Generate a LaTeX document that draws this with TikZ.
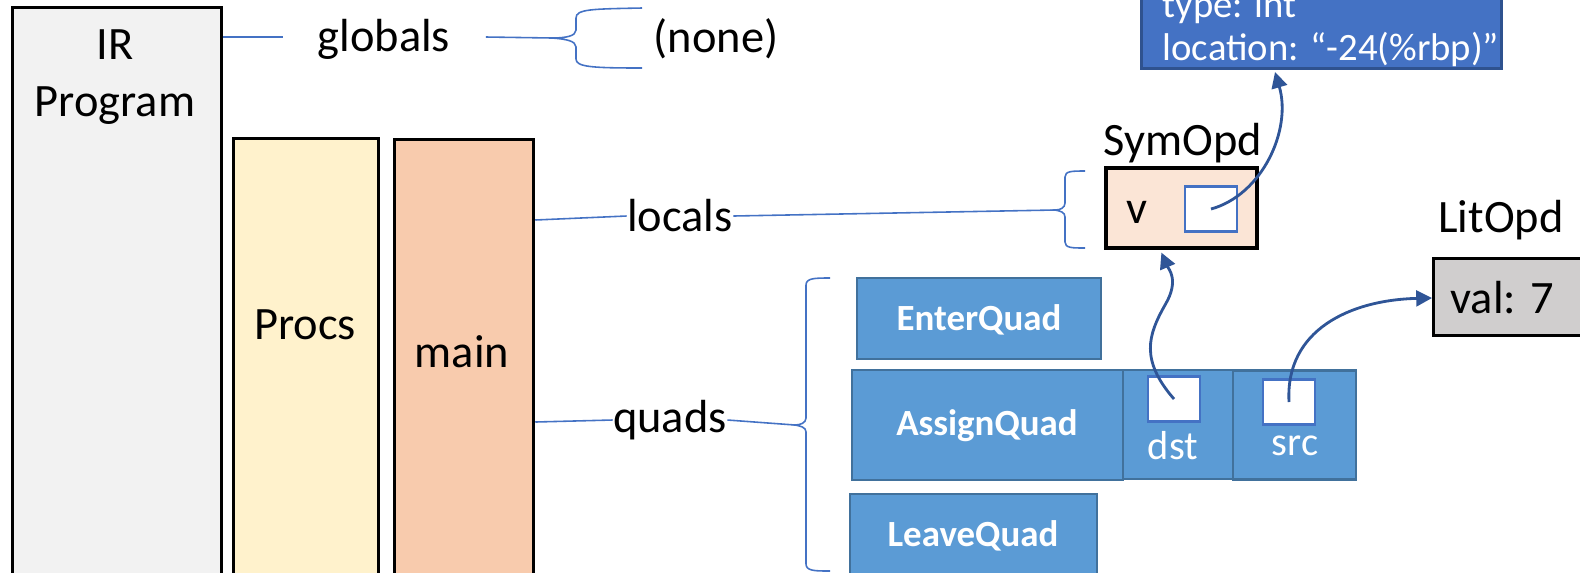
\documentclass[tikz,border=0pt]{standalone}
\usepackage{fontspec}
\setmainfont{Carlito}
\usepackage{xcolor}
\usetikzlibrary{positioning,calc,arrows.meta}

\definecolor{irgray}{HTML}{F2F2F2}
\definecolor{procyellow}{HTML}{FFF2CC}
\definecolor{mainorange}{HTML}{F8CBAD}
\definecolor{symfill}{HTML}{FBE5D6}
\definecolor{litgray}{HTML}{D0CECE}
\definecolor{quadblue}{HTML}{5B9BD5}
\definecolor{quadedge}{HTML}{41719C}
\definecolor{linkblue}{HTML}{4472C4}
\definecolor{infoedge}{HTML}{2F528F}
\definecolor{ptrblue}{HTML}{2F5597}

\tikzset{
    block/.style={draw=black, line width=0.9pt, inner sep=0pt},
    quadbox/.style={draw=quadedge, fill=quadblue, line width=0.7pt, inner sep=0pt},
    slot/.style={draw=linkblue, fill=white, line width=0.7pt, inner sep=0pt, minimum width=0.52cm, minimum height=0.45cm},
    lbl/.style={font=\fontsize{13.2}{16.4}\selectfont, inner sep=0pt},
    quadlbl/.style={text=white, font=\fontsize{10.5}{12}\selectfont\bfseries, inner sep=0pt},
    fieldlbl/.style={text=white, font=\fontsize{11.5}{13}\selectfont, inner sep=0pt},
    infolbl/.style={text=white, font=\fontsize{11}{13}\selectfont, inner sep=0pt, anchor=base west},
    link/.style={linkblue, line width=0.45pt},
    ptr/.style={ptrblue, line width=0.8pt, -{Triangle[length=4.5pt,width=4.5pt]}},
}

\begin{document}
\begin{tikzpicture}[x=0.01cm, y=-0.01cm]
    \useasboundingbox (0,0) rectangle (1580,572);
    \clip (0,0) rectangle (1580,572);

    \node[block, fill=irgray, minimum width=2.09cm, minimum height=6.1cm, anchor=north west] (ir) at (11,6) {};
    \node[block, fill=procyellow, minimum width=1.45cm, minimum height=5cm, anchor=north west] (procs) at (232,137) {};
    \node[block, fill=mainorange, minimum width=1.39cm, minimum height=5cm, anchor=north west] (mainproc) at (393,138) {};

    \node[lbl, align=center] (irtext) at (115,77) {IR\\Program};
    \node[lbl] (procstext) at (305,325) {Procs};
    \node[lbl] (maintext) at (462,352) {main};

    \node[lbl] (globals) at (384,39) {globals};
    \node[lbl] (none) at (716,39) {(none)};
    \node[lbl] (locals) at (680,216) {locals};
    \node[lbl] (quads) at (670,420) {quads};

    \coordinate (irtap) at ($(ir.north east)+(0,31)$);
    \coordinate (localtap) at ($(mainproc.north east)+(0,82)$);
    \coordinate (quadtap) at ($(mainproc.north east)+(0,284)$);
    \draw[link] (irtap) -- ($(irtap -| globals.west)+(-34,0)$);
    \draw[link] (localtap) -- (locals.west);
    \draw[link] (quadtap) -- (quads.west);

    % braces
    \coordinate (gtip) at (552,38);
    \coordinate (ltip) at (1055,210);
    \coordinate (qtip) at (795,425);
    \draw[link] ($(globals.east)+(35,-2)$) -- (gtip);
    \draw[link] (locals.east) -- (ltip);
    \draw[link] (quads.east) -- (qtip);
    \draw[link] (642,8) .. controls (592,9) and (576,9) .. (576,18) -- (576,30)
        .. controls (576,36) and (566,38) .. (gtip)
        .. controls (566,39) and (576,41) .. (576,47) -- (576,59)
        .. controls (576,67) and (592,68) .. (642,68);
    \draw[link] (1085,171) .. controls (1072,171) and (1065,171) .. (1065,177) -- (1065,203)
        .. controls (1065,208) and (1060,210) .. (ltip)
        .. controls (1060,211) and (1065,212) .. (1065,217) -- (1065,242)
        .. controls (1065,248) and (1072,248) .. (1085,248);
    \draw[link] (830,278) .. controls (815,278) and (806,278) .. (806,285) -- (806,418)
        .. controls (806,423) and (800,425) .. (qtip)
        .. controls (800,426) and (806,427) .. (806,432) -- (806,564)
        .. controls (806,571) and (815,571) .. (830,571);

    % operands
    \node[draw=infoedge, fill=linkblue, line width=0.9pt, minimum width=3.6cm, minimum height=1.4cm, inner sep=0pt, anchor=south west] (info) at (1140,70) {};
    \node[infolbl] (infotype) at (1162,17) {type: int};
    \node[infolbl] (infoloc) at (1162,60) {location: “-24(\%rbp)”};

    \node[lbl] (symname) at (1183,143) {SymOpd};
    \node[block, fill=symfill, minimum width=1.51cm, minimum height=0.80cm] (sym) at (1181.5,208) {};
    \node[lbl] (symv) at (1137,212) {v};
    \node[slot] (symslot) at (1211,209) {};

    \node[lbl] (litname) at (1501,220) {LitOpd};
    \node[block, fill=litgray, minimum width=1.7cm, minimum height=0.77cm, anchor=north west] (lit) at (1432,257) {};
    \node[lbl] (litval) at (1502,298) {val: 7};

    % quads
    \node[quadbox, minimum width=2.44cm, minimum height=0.81cm] (enter) at (979,318.5) {};
    \node[quadlbl] (entertext) at (979,320) {EnterQuad};
    \node[quadbox, minimum width=2.71cm, minimum height=1.10cm] (assign) at (987.5,425) {};
    \node[quadlbl] (assigntext) at (987,426) {AssignQuad};
    \node[quadbox, minimum width=1.10cm, minimum height=1.09cm] (dst) at (1178,424.5) {};
    \node[quadbox, minimum width=1.23cm, minimum height=1.09cm] (src) at (1294.5,425) {};
    \node[slot] (dstslot) at (1174,399) {};
    \node[slot] (srcslot) at (1289,402) {};
    \node[fieldlbl] (dsttext) at (1173,446) {dst};
    \node[fieldlbl] (srctext) at (1295,446) {src};
    \node[quadbox, minimum width=2.47cm, minimum height=1.26cm] (leave) at (973.5,557) {};
    \node[quadlbl] (leavetext) at (973,536) {LeaveQuad};

    % pointers
    \draw[ptr] (symslot.center) .. controls (1262,195) and (1292,130) .. ($(info.south west)+(135,2)$);
    \draw[ptr] (dstslot.center) .. controls (1140,360) and (1148,335) .. (1165,305)
        .. controls (1180,280) and (1168,268) .. ($(sym.south west)+(57,3)$);
    \draw[ptr] (srcslot.center) .. controls (1285,330) and (1350,300) .. (lit.west |- litval);
\end{tikzpicture}
\end{document}
